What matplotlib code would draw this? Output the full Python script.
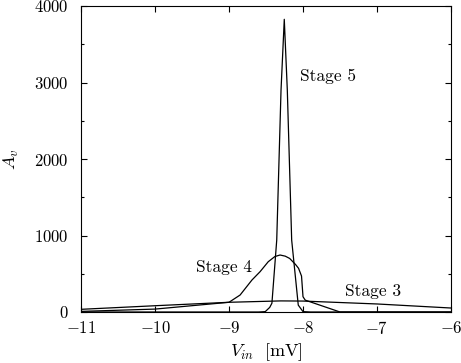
import matplotlib
matplotlib.use("Agg")
import matplotlib.pyplot as plt
from matplotlib.ticker import MultipleLocator

plt.rcParams['font.family'] = 'serif'
plt.rcParams['font.serif'] = ['cmr10']
plt.rcParams['mathtext.fontset'] = 'cm'
plt.rcParams['axes.formatter.use_mathtext'] = True
plt.rcParams['axes.unicode_minus'] = True

# Stage 3: broad, low gain curve
x_stage3 = [-11, -10, -9, -8.3, -8.0, -7, -6]
a_stage3 = [35, 82, 127, 145, 143, 105, 52]

# Stage 4: medium peak around -8.3 mV
x_stage4 = [-11, -10, -9, -8.85, -8.69, -8.58, -8.47, -8.38, -8.31, -8.24,
            -8.18, -8.10, -8.06, -8.02, -8.00, -7.97, -7.5, -6]
a_stage4 = [8, 38, 127, 222, 418, 527, 657, 725, 745, 730,
            700, 620, 571, 470, 200, 155, 0, 0]

# Stage 5: very sharp peak
x_stage5 = [-11, -8.6, -8.51, -8.45, -8.42, -8.355, -8.297, -8.253, -8.212,
            -8.153, -8.064, -8.0, -7.9, -6]
a_stage5 = [0, 0, 5, 60, 115, 940, 2900, 3826, 2900,
            940, 90, 5, 0, 0]

fig = plt.figure(figsize=(4.61, 3.63), dpi=100)
ax = fig.add_axes([81 / 461, 1 - 312 / 363, 370 / 461, 306 / 363])

for xs, ys in [(x_stage3, a_stage3), (x_stage4, a_stage4), (x_stage5, a_stage5)]:
    ax.plot(xs, ys, color='black', linewidth=0.9)

ax.text(-8.04, 3085, 'Stage 5', fontsize=12.5, va='center', ha='left')
ax.text(-9.45, 588, 'Stage 4', fontsize=12.5, va='center', ha='left')
ax.text(-7.43, 275, 'Stage 3', fontsize=12.5, va='center', ha='left')

ax.set_xlim(-11, -6)
ax.set_ylim(0, 4000)
ax.xaxis.set_major_locator(MultipleLocator(1))
ax.yaxis.set_major_locator(MultipleLocator(1000))
ax.yaxis.set_minor_locator(MultipleLocator(500))
ax.tick_params(which='both', direction='in', top=True, right=True, labelsize=12)
ax.tick_params(which='major', length=4, width=0.8)
ax.tick_params(which='minor', length=2.5, width=0.8)
ax.tick_params(axis='x', which='minor', bottom=False, top=False)
ax.tick_params(axis='x', pad=6)
ax.tick_params(axis='y', pad=9)

ax.set_xlabel(r'$V_{in}\ \ [\mathrm{mV}]$', fontsize=13, labelpad=3)
ax.set_ylabel(r'$A_v$', fontsize=13, labelpad=9)

fig.savefig('out.png', dpi=100)
